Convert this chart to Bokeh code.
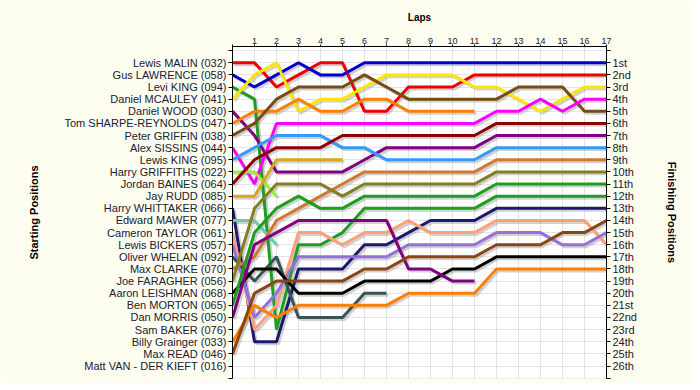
from bokeh.plotting import figure
from bokeh.models import Range1d, LinearAxis, FixedTicker
from bokeh.embed import file_html
from bokeh.resources import INLINE
import numpy as np

# ---------------- data ----------------
laps = list(range(0, 18))

start_names = [
    "Lewis MALIN (032)", "Gus LAWRENCE (058)", "Levi KING (094)", "Daniel MCAULEY (041)",
    "Daniel WOOD (030)", "Tom SHARPE-REYNOLDS (047)", "Peter GRIFFIN (038)", "Alex SISSINS (044)",
    "Lewis KING (095)", "Harry GRIFFITHS (022)", "Jordan BAINES (064)", "Jay RUDD (085)",
    "Harry WHITTAKER (066)", "Edward MAWER (077)", "Cameron TAYLOR (061)", "Lewis BICKERS (057)",
    "Oliver WHELAN (092)", "Max CLARKE (070)", "Joe FARAGHER (056)", "Aaron LEISHMAN (068)",
    "Ben MORTON (065)", "Dan MORRIS (050)", "Sam BAKER (076)", "Billy Grainger (033)",
    "Max READ (046)", "Matt VAN - DER KIEFT (016)",
]

finish_labels = [
    "1st", "2nd", "3rd", "4th", "5th", "6th", "7th", "8th", "9th", "10th", "11th", "12th", "13th",
    "14th", "15th", "16th", "17th", "18th", "19th", "20th", "21st", "22nd", "23rd", "24th", "25th", "26th",
]

malin      = [1, 1, 3, 2, 1, 1, 5, 5, 3, 3, 3, 2, 2, 2, 2, 2, 2, 2]
lawrence   = [2, 3, 2, 1, 2, 2, 1, 1, 1, 1, 1, 1, 1, 1, 1, 1, 1, 1]
levi_king  = [3, 4, 23, 16, 16, 15, 13, 13, 13, 13, 13, 13, 12, 12, 12, 12, 12, 12]
mcauley    = [4, 2, 1, 5, 4, 4, 3, 2, 2, 2, 2, 3, 3, 4, 5, 4, 3, 3]
wood       = [5, 7, 10, 10, 10, 10, 9, 8, 8, 8, 8, 8, 7, 7, 7, 7, 7, 7]
sharpe     = [6, 5, 5, 4, 5, 5, 4, 4, 5, 5, 5, 5]
griffin    = [7, 6, 4, 3, 3, 3, 2, 3, 4, 4, 4, 4, 4, 3, 3, 3, 5, 5]
sissins    = [8, 11, 6, 6, 6, 6, 6, 6, 6, 6, 6, 6, 5, 5, 4, 5, 4, 4]
lewis_king = [9, 8, 7, 7, 7, 8, 8, 9, 9, 9, 9, 9, 8, 8, 8, 8, 8, 8]
griffiths  = [10, 10, 12]
baines     = [11, 9, 8, 8, 8, 7, 7, 7, 7, 7, 7, 7, 6, 6, 6, 6, 6, 6]
rudd       = [12, 12, 9, 9, 9, 9]
whittaker  = [13, 24, 24, 18, 18, 18, 16, 16, 15, 14, 14, 14, 13, 13, 13, 13, 13, 13]
mawer      = [14, 14, 16]
taylor     = [15, 23, 21, 15, 15, 16, 15, 15, 14, 15, 15, 15, 14, 14, 14, 14, 14, 16]
bickers    = [16, 22, 20, 17, 17, 17, 17, 17, 16, 16, 16, 16, 15, 15, 15, 16, 16, 15]
whelan     = [17, 19, 17, 22, 22, 22, 20, 20]
clarke     = [18, 17, 14, 13, 12, 11, 10, 10, 10, 10, 10, 10, 9, 9, 9, 9, 9, 9]
faragher   = [19, 13, 11, 11, 11, 12, 11, 11, 11, 11, 11, 11, 10, 10, 10, 10, 10, 10]
leishman   = [20, 18, 18, 20, 20, 20, 19, 19, 19, 19, 18, 18, 17, 17, 17, 17, 17, 17]
morton     = [21, 15, 13, 12, 13, 13, 12, 12, 12, 12, 12, 12, 11, 11, 11, 11, 11, 11]
morris     = [22, 16, 15, 14, 14, 14, 14, 14, 18, 18, 19, 19]
grainger   = [24, 21, 22, 21, 21, 21, 21, 21, 20, 20, 20, 20, 18, 18, 18, 18, 18, 18]
read       = [25, 20, 19, 19, 19, 19, 18, 18, 17, 17, 17, 17, 16, 16, 16, 15, 15, 14]

series = [
    (malin, "#EE0000"), (lawrence, "#0000CC"), (levi_king, "#1E9E1E"), (mcauley, "#FFE600"),
    (wood, "#800080"), (sharpe, "#FF8000"), (griffin, "#7A4A14"), (sissins, "#FF00FF"),
    (lewis_king, "#3399FF"), (griffiths, "#99EE33"), (baines, "#8B0000"), (rudd, "#DAA520"),
    (whittaker, "#1A1A6E"), (mawer, "#66CDAA"), (taylor, "#FFA07A"), (bickers, "#9370DB"),
    (whelan, "#355555"), (clarke, "#D2772E"), (faragher, "#808020"), (leishman, "#000000"),
    (morton, "#1E9E1E"), (morris, "#800080"), (grainger, "#FF8000"), (read, "#8B4513"),
]

# ---------------- figure ----------------
bg = "#FDFDF0"
txt = "#202030"
p = figure(
    frame_width=374, frame_height=332,
    x_range=Range1d(0, 17), y_range=Range1d(27.03, -0.34),
    x_axis_location="above", y_axis_location="left",
    output_backend="svg", toolbar_location=None,
    background_fill_color="white", border_fill_color=bg,
    min_border_left=232, min_border_right=86, min_border_top=46, min_border_bottom=4,
    outline_line_color=None,
)

# top axis
xa = p.xaxis[0]
xa.ticker = FixedTicker(ticks=laps)
xa.major_label_overrides = {0: ""}
xa.axis_label = "Laps"
xa.axis_label_text_font = "Liberation Sans"
xa.axis_label_text_font_style = "bold"
xa.axis_label_text_font_size = "10px"
xa.axis_label_text_color = "black"
xa.axis_label_standoff = 12
xa.major_label_text_font = "Liberation Sans"
xa.major_label_text_font_size = "9px"
xa.major_label_text_color = txt
xa.major_label_standoff = 1
xa.major_tick_out = 2
xa.major_tick_in = 0
xa.minor_tick_line_color = None
xa.axis_line_color = "black"

# left axis
ticks_y = list(range(0, 28))
ya = p.yaxis[0]
ya.ticker = FixedTicker(ticks=ticks_y)
left_over = {0: "", 27: ""}
for i, n in enumerate(start_names):
    left_over[i + 1] = n
ya.major_label_overrides = left_over
ya.axis_label = "Starting Positions"

# right axis
ra = LinearAxis(ticker=FixedTicker(ticks=ticks_y))
right_over = {0: "", 27: ""}
for i, n in enumerate(finish_labels):
    right_over[i + 1] = n
ra.major_label_overrides = right_over
ra.axis_label = "Finishing Positions"
p.add_layout(ra, "right")

for ax in (ya, ra):
    ax.axis_label_text_font = "Liberation Sans"
    ax.axis_label_text_font_style = "bold"
    ax.axis_label_text_font_size = "11px"
    ax.axis_label_text_color = "black"
    ax.major_label_text_font = "Liberation Sans"
    ax.major_label_text_font_size = "11px"
    ax.major_label_text_color = txt
    ax.major_label_standoff = 2
    ax.major_tick_out = 4
    ax.major_tick_in = 0
    ax.minor_tick_line_color = None
    ax.axis_line_color = "black"
ya.axis_label_standoff = 22
ra.axis_label_standoff = 26

p.xgrid.ticker = FixedTicker(ticks=laps)
p.ygrid.ticker = FixedTicker(ticks=ticks_y)
p.xgrid.grid_line_color = "#E4E4E4"
p.ygrid.grid_line_color = "#E4E4E4"

# shadows then lines
dx, dy = 0.09, 0.16
for pos, col in series:
    xs = np.array(laps[: len(pos)], dtype=float) + dx
    ys = np.array(pos, dtype=float) + dy
    p.line(xs, ys, line_color="#9A9A9A", line_alpha=0.45, line_width=3)
for pos, col in series:
    p.line(laps[: len(pos)], pos, line_color=col, line_width=3)

open("out.html", "w").write(file_html(p, INLINE))
